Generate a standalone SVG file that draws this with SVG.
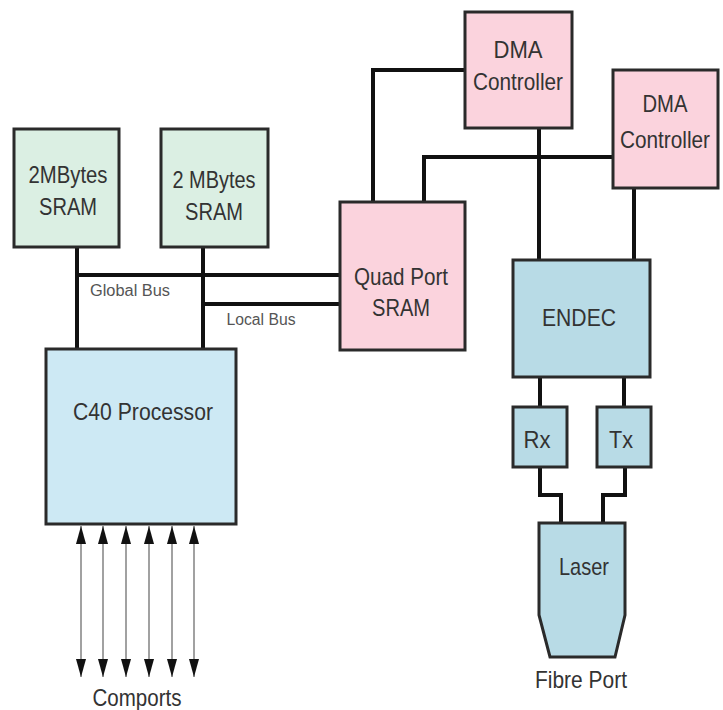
<svg xmlns="http://www.w3.org/2000/svg" width="723" height="710" viewBox="0 0 723 710">
<defs>
<style>
.box{stroke:#2a2a2a;stroke-width:3}
.green{fill:#dbefe3}
.pink{fill:#fbd3dd}
.blue{fill:#b8dbe6}
.lblue{fill:#cde9f4}
.wire{fill:none;stroke:#111;stroke-width:4}
.thin{fill:none;stroke:#8a8a8a;stroke-width:1.6;marker-start:url(#ah);marker-end:url(#ah)}
text{font-family:"Liberation Sans",Arial,sans-serif;fill:#333;text-anchor:middle}
.t{font-size:24px}
.s{font-size:16px;fill:#555}
</style>
<marker id="ah" viewBox="0 0 18 10" refX="18" refY="5" markerWidth="18" markerHeight="10" orient="auto-start-reverse" markerUnits="userSpaceOnUse">
<path d="M0,0 L18,5 L0,10 z" fill="#111"/>
</marker>
</defs>
<rect width="723" height="710" fill="#fff"/>
<g id="connectors">
<path class="wire" d="M77,247 V349"/>
<path class="wire" d="M203,247 V349"/>
<path class="wire" d="M77,275 H340"/>
<path class="wire" d="M203,304 H340"/>
<path class="wire" d="M465,70 H373 V202"/>
<path class="wire" d="M613,157 H424 V202"/>
<path class="wire" d="M539,128 V260"/>
<path class="wire" d="M634,188 V260"/>
<path class="wire" d="M540,377 V407"/>
<path class="wire" d="M624,377 V407"/>
<path class="wire" d="M540,467 V495 H561 V523" stroke-width="3"/>
<path class="wire" d="M625,467 V495 H603 V523" stroke-width="3"/>
<line class="thin" x1="81" y1="677" x2="81" y2="526"/>
<line class="thin" x1="103" y1="677" x2="103" y2="526"/>
<line class="thin" x1="126" y1="677" x2="126" y2="526"/>
<line class="thin" x1="149" y1="677" x2="149" y2="526"/>
<line class="thin" x1="172" y1="677" x2="172" y2="526"/>
<line class="thin" x1="194" y1="677" x2="194" y2="526"/>
<text class="s" x="130" y="296" textLength="80" lengthAdjust="spacingAndGlyphs">Global Bus</text>
<text class="s" x="261" y="325" textLength="69" lengthAdjust="spacingAndGlyphs">Local Bus</text>
<text class="t" x="137" y="706" textLength="89" lengthAdjust="spacingAndGlyphs">Comports</text>
</g>
<g id="sram1">
<rect class="box green" x="14" y="129" width="105" height="118"/>
<text class="t" x="68" y="183" textLength="79" lengthAdjust="spacingAndGlyphs">2MBytes</text>
<text class="t" x="68" y="215" textLength="58" lengthAdjust="spacingAndGlyphs">SRAM</text>
</g>
<g id="sram2">
<rect class="box green" x="161" y="129" width="107" height="118"/>
<text class="t" x="214" y="188" textLength="83" lengthAdjust="spacingAndGlyphs">2 MBytes</text>
<text class="t" x="214" y="220" textLength="58" lengthAdjust="spacingAndGlyphs">SRAM</text>
</g>
<g id="c40">
<rect class="box lblue" x="46" y="349" width="190" height="175"/>
<text class="t" x="143" y="420" textLength="140" lengthAdjust="spacingAndGlyphs">C40 Processor</text>
</g>
<g id="quadport">
<rect class="box pink" x="340" y="202" width="125" height="148"/>
<text class="t" x="401" y="285" textLength="94" lengthAdjust="spacingAndGlyphs">Quad Port</text>
<text class="t" x="401" y="316" textLength="58" lengthAdjust="spacingAndGlyphs">SRAM</text>
</g>
<g id="dma1">
<rect class="box pink" x="465" y="12" width="107" height="116"/>
<text class="t" x="518" y="58" textLength="49" lengthAdjust="spacingAndGlyphs">DMA</text>
<text class="t" x="518" y="90" textLength="90" lengthAdjust="spacingAndGlyphs">Controller</text>
</g>
<g id="dma2">
<rect class="box pink" x="613" y="70" width="105" height="118"/>
<text class="t" x="665" y="112" textLength="45" lengthAdjust="spacingAndGlyphs">DMA</text>
<text class="t" x="665" y="148" textLength="90" lengthAdjust="spacingAndGlyphs">Controller</text>
</g>
<g id="endec">
<rect class="box blue" x="513" y="260" width="137" height="117"/>
<text class="t" x="579" y="326" textLength="74" lengthAdjust="spacingAndGlyphs">ENDEC</text>
</g>
<g id="rx">
<rect class="box blue" x="513" y="407" width="54" height="60"/>
<text class="t" x="537" y="448" textLength="27" lengthAdjust="spacingAndGlyphs">Rx</text>
</g>
<g id="tx">
<rect class="box blue" x="597" y="407" width="54" height="60"/>
<text class="t" x="621" y="448" textLength="24" lengthAdjust="spacingAndGlyphs">Tx</text>
</g>
<g id="laser">
<path class="box blue" d="M539,523 H625 V615 L615,657 H550 L539,615 Z"/>
<text class="t" x="584" y="575" textLength="50" lengthAdjust="spacingAndGlyphs">Laser</text>
<text class="t" x="581" y="688" textLength="92" lengthAdjust="spacingAndGlyphs">Fibre Port</text>
</g>
</svg>
